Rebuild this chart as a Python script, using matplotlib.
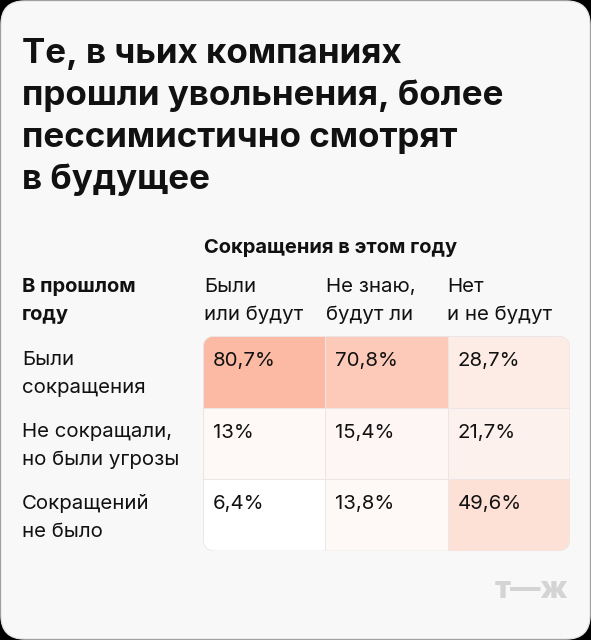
import matplotlib
matplotlib.use("Agg")
import matplotlib.pyplot as plt
import numpy as np
from matplotlib.patches import FancyBboxPatch
from matplotlib.colors import LinearSegmentedColormap

# ---- data ----
title_lines = ["Те, в чьих компаниях", "прошли увольнения, более",
               "пессимистично смотрят", "в будущее"]
col_header = "Сокращения в этом году"
row_header = ["В прошлом", "году"]
col_labels = [["Были", "или будут"], ["Не знаю,", "будут ли"], ["Нет", "и не будут"]]
row_labels = [["Были", "сокращения"], ["Не сокращали,", "но были угрозы"], ["Сокращений", "не было"]]
values = np.array([[80.7, 70.8, 28.7],
                   [13.0, 15.4, 21.7],
                   [6.4, 13.8, 49.6]])
value_labels = [["80,7%", "70,8%", "28,7%"],
                ["13%", "15,4%", "21,7%"],
                ["6,4%", "13,8%", "49,6%"]]

W, H = 591, 640
fig = plt.figure(figsize=(W / 100, H / 100), dpi=100)
fig.patch.set_facecolor("black")

FONT = ["Inter", "DejaVu Sans"]

def fx(x):
    return x / W

def fy(y):
    return 1 - y / H

# panel
panel = FancyBboxPatch((fx(1), fy(639)), fx(589), (638) / H,
                       boxstyle="round,pad=0,rounding_size=0.04",
                       transform=fig.transFigure, facecolor="#f8f8f8",
                       edgecolor="#e6e6e6", linewidth=1.0,
                       mutation_aspect=W / H, zorder=-10)
fig.patches.append(panel)

# title
for i, line in enumerate(title_lines):
    fig.text(fx(22), fy(63 + 42 * i), line, fontsize=25.2, fontweight="bold",
             family=FONT, color="#111111", va="baseline", ha="left")

fig.text(fx(204), fy(253), col_header, fontsize=14.5, fontweight="bold",
         family=FONT, color="#111111", va="baseline")
for i, t in enumerate(row_header):
    fig.text(fx(22), fy(292 + 28 * i), t, fontsize=14.5, fontweight="bold",
             family=FONT, color="#111111", va="baseline")

col_x = [204, 326, 447]
for cx, lab in zip(col_x, col_labels):
    for i, t in enumerate(lab):
        fig.text(fx(cx), fy(292 + 28 * i), t, fontsize=14.7, family=FONT,
                 color="#111111", va="baseline")

row_y = [365, 437, 509]
for ry, lab in zip(row_y, row_labels):
    for i, t in enumerate(lab):
        fig.text(fx(22), fy(ry + 28 * i), t, fontsize=14.7, family=FONT,
                 color="#111111", va="baseline")

# heatmap table
tl, tr, tt, tb = 203, 570, 336, 551
ax = fig.add_axes([fx(tl), fy(tb), (tr - tl) / W, (tb - tt) / H])
ax.set_zorder(5)
cmap = LinearSegmentedColormap.from_list(
    "salmon", [(0.0, "#ffffff"), (0.2, "#fdf1ed"), (0.32, "#fdebe5"),
               (0.58, "#fde0d6"), (0.86, "#fdcbbb"), (1.0, "#fcb9a3")])
norm = matplotlib.colors.Normalize(vmin=6.4, vmax=80.7)
mesh = ax.pcolormesh(np.arange(4), np.arange(4), values, cmap=cmap, norm=norm,
                     edgecolors="#ebe6e5", linewidth=0.5)
ax.set_xlim(0, 3)
ax.set_ylim(3, 0)
ax.axis("off")
clip = FancyBboxPatch((0, 0), 1, 1, boxstyle="round,pad=0,rounding_size=0.035",
                      transform=ax.transAxes, facecolor="none",
                      edgecolor="#ebe7e6", linewidth=0.6,
                      mutation_aspect=(tr - tl) / (tb - tt))
ax.add_patch(clip)
mesh.set_clip_path(clip)

for r in range(3):
    for c in range(3):
        ax.text(c + 0.08, r + 0.42, value_labels[r][c], fontsize=14.7,
                family=FONT, color="#111111", va="baseline", ha="left")

# logo
fig.text(fx(568), fy(598), "т—ж", fontsize=22, fontweight="heavy", family=FONT,
         color="#d4d4d4", ha="right", va="baseline")

fig.savefig("out.png", dpi=100, facecolor=fig.get_facecolor())
